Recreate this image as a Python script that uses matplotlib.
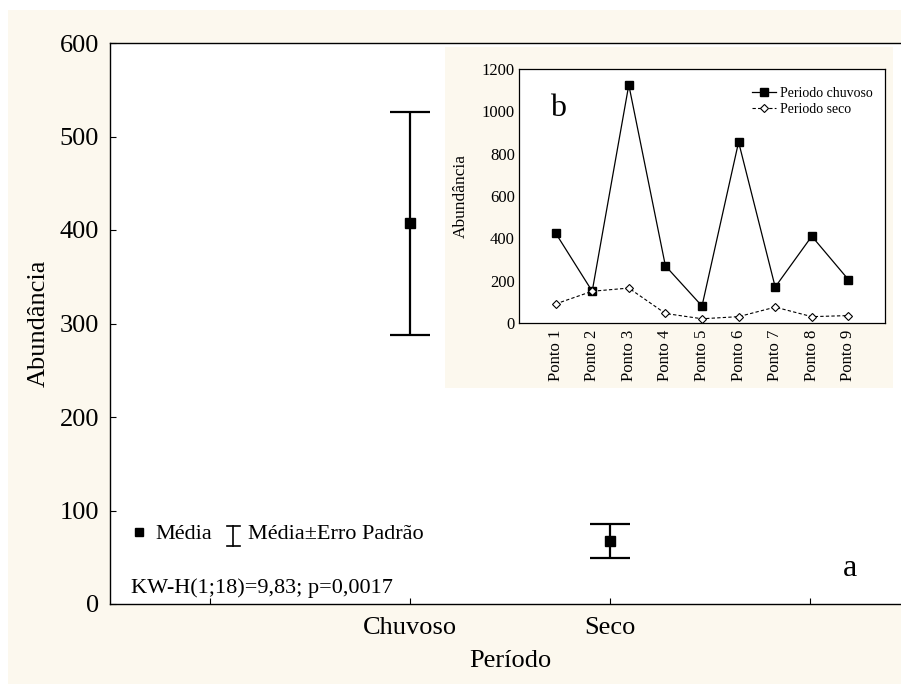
import matplotlib
matplotlib.use("Agg")
import matplotlib.pyplot as plt
from matplotlib.patches import Rectangle
from matplotlib.lines import Line2D

plt.rcParams['font.family'] = ['Liberation Serif', 'DejaVu Serif']

# ---- data ----
periodos = ['Chuvoso', 'Seco']
media = [407, 67.5]
erro_padrao = [119, 18.5]
main_ticks = ['', 'Chuvoso', 'Seco', '']
main_yticks = [0, 100, 200, 300, 400, 500, 600]

pontos = ['Ponto 1', 'Ponto 2', 'Ponto 3', 'Ponto 4', 'Ponto 5',
          'Ponto 6', 'Ponto 7', 'Ponto 8', 'Ponto 9']
chuvoso = [425, 150, 1125, 270, 80, 855, 170, 410, 205]
seco = [90, 150, 165, 45, 20, 30, 75, 30, 35]
inset_yticks = [0, 200, 400, 600, 800, 1000, 1200]

W, H = 901, 684
CREAM = '#fcf8ee'
fig = plt.figure(figsize=(W / 100, H / 100), dpi=100, facecolor='white')
fig.patches.append(Rectangle((8 / W, 0), 1, 1 - 10 / H, transform=fig.transFigure,
                             facecolor=CREAM, edgecolor='none', zorder=-10))

# ---- main axes ----
ax = fig.add_axes([110 / W, (H - 604) / H, 800 / W, 561 / H])
ax.set_facecolor('white')
xpos = [1, 2]
ax.errorbar(xpos, media, yerr=erro_padrao, fmt='s', color='black', ms=6.5,
            elinewidth=1.6, capsize=14.4, capthick=1.6, ecolor='black')
ax.set_xlim(-0.5, 3.5)
ax.set_ylim(0, 600)
ax.set_xticks(range(len(main_ticks)))
ax.set_xticklabels(main_ticks)
ax.set_yticks(main_yticks)
ax.tick_params(axis='both', direction='in', labelsize=19, color='black')
ax.tick_params(axis='y', length=4, pad=8)
ax.tick_params(axis='x', length=4, pad=9)
for s in ['left', 'bottom', 'top']:
    ax.spines[s].set_linewidth(1.0)
ax.spines['right'].set_visible(False)
ax.set_xlabel('Período', fontsize=19, labelpad=8)
ax.set_ylabel('Abundância', fontsize=19, labelpad=7)

# legend-like annotation
ax.plot([0.0367], [0.129], marker='s', color='black', ms=6, transform=ax.transAxes,
        clip_on=False)
ax.text(0.0569, 0.116, 'Média', fontsize=16, transform=ax.transAxes, va='baseline')
ibx, iby0, iby1 = 0.154, 0.104, 0.139
ax.add_line(Line2D([ibx, ibx], [iby0, iby1], color='black', lw=1.2, transform=ax.transAxes))
for yy in (iby0, iby1):
    ax.add_line(Line2D([ibx - 0.008, ibx + 0.008], [yy, yy], color='black', lw=1.2,
                       transform=ax.transAxes))
ax.text(0.1725, 0.116, 'Média±Erro Padrão', fontsize=16, transform=ax.transAxes,
        va='baseline')
ax.text(0.0265, 0.0196, 'KW-H(1;18)=9,83; p=0,0017', fontsize=16,
        transform=ax.transAxes, va='baseline')
ax.text(0.925, 0.05, 'a', fontsize=23, transform=ax.transAxes, va='baseline', ha='center')

# ---- inset background ----
bg = fig.add_axes([445 / W, (H - 388) / H, 448 / W, 341 / H])
bg.set_facecolor(CREAM)
bg.set_xticks([])
bg.set_yticks([])
for s in bg.spines.values():
    s.set_visible(False)

# ---- inset axes ----
ins = fig.add_axes([519 / W, (H - 323) / H, 366 / W, 254 / H])
ins.set_facecolor('white')
xi = list(range(1, len(pontos) + 1))
ins.plot(xi, chuvoso, '-s', color='black', lw=0.9, ms=5.8, label='Periodo chuvoso')
ins.plot(xi, seco, linestyle=(0, (3, 2)), marker='D', color='black', lw=0.8, ms=4.2,
         mfc='white', mew=0.8, label='Periodo seco')
ins.set_xlim(0, 10)
ins.set_ylim(0, 1200)
ins.set_xticks(xi)
ins.set_xticklabels(pontos, rotation=90)
ins.set_yticks(inset_yticks)
ins.tick_params(axis='both', length=0, labelsize=12)
ins.tick_params(axis='y', pad=3)
ins.tick_params(axis='x', pad=5)
for s in ins.spines.values():
    s.set_linewidth(0.9)
ins.set_ylabel('Abundância', fontsize=12.5, labelpad=9)
ins.text(0.085, 0.815, 'b', fontsize=23, transform=ins.transAxes, va='baseline')
ins.legend(loc='upper right', bbox_to_anchor=(0.967, 0.93), frameon=False, fontsize=10,
           handlelength=1.7, handletextpad=0.3, labelspacing=0.25, borderpad=0,
           borderaxespad=0)

fig.savefig('out.png', dpi=100, facecolor=fig.get_facecolor())
